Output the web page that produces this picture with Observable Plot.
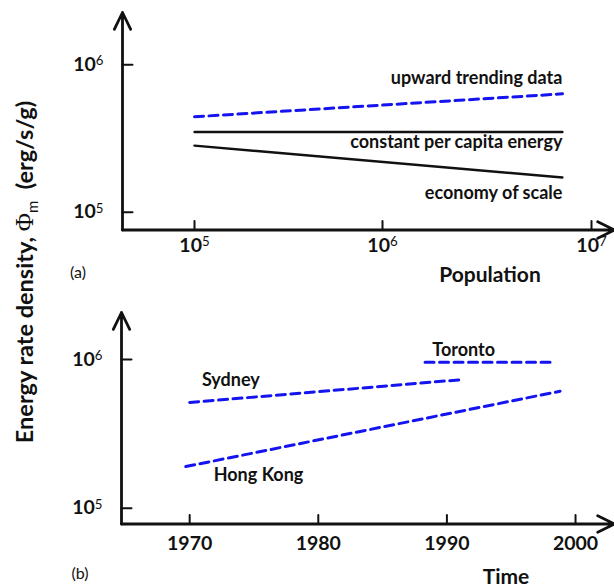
<!DOCTYPE html>
<html><head><meta charset="utf-8">
<script src="https://cdn.jsdelivr.net/npm/d3@7"></script>
<script src="https://cdn.jsdelivr.net/npm/@observablehq/plot@0.6"></script>
<style>
body{margin:0;background:#fff;}
#wrap{position:relative;width:614px;height:586px;overflow:hidden;font-family:Lato,"Open Sans",sans-serif;color:#111;}
#wrap svg{position:absolute;left:0;overflow:visible;}
.lab{position:absolute;white-space:nowrap;transform:translate(-50%,-50%);}
.ttl{font-weight:bold;font-size:21px;}
.pan{font-size:16px;}
#ylab{position:absolute;left:25px;top:272px;transform:translate(-50%,-50%) rotate(-90deg);white-space:nowrap;font-weight:bold;font-size:23.5px;}
#ylab .phi{font-family:"Liberation Serif",serif;font-weight:normal;font-size:25px;}
#ylab sub{font-size:15px;font-weight:normal;vertical-align:-5px;}
</style></head><body>
<div id="wrap">
  <div id="ylab">Energy rate density, <span class="phi">Φ</span><sub>m</sub>&nbsp;&nbsp;(erg/s/g)</div>
  <div class="lab pan" style="left:78px;top:271px">(a)</div>
  <div class="lab pan" style="left:80px;top:572px">(b)</div>
  <div class="lab ttl" style="left:490px;top:273px">Population</div>
  <div class="lab ttl" style="left:506px;top:575px">Time</div>
</div>
<script>
// ---------- Panel (a) data ----------
const popTicks = [1e5, 1e6, 1e7];
const rhoTicksA = [1e5, 1e6];
const popA = [1e5, 7.26e6];
const upwardA = [4.44e5, 6.35e5];
const constantA = [3.5e5, 3.5e5];
const economyA = [2.83e5, 1.72e5];
const labelsA = ["upward trending data", "constant per capita energy", "economy of scale"];
const labelRhoA = [8.07e5, 2.97e5, 1.34e5];

// ---------- Panel (b) data ----------
const yearTicks = [1970, 1980, 1990, 2000];
const rhoTicksB = [1e5, 1e6];
const sydneyYears = [1970, 1991.3];
const sydneyRho = [5.14e5, 7.34e5];
const hongKongYears = [1969.7, 1998.8];
const hongKongRho = [1.905e5, 6.12e5];
const torontoYears = [1988.3, 1998.3];
const torontoRho = [9.59e5, 9.59e5];
const cityLabels = ["Toronto", "Sydney", "Hong Kong"];
const cityLabelYears = [1991.3, 1973.2, 1975.35];
const cityLabelRho = [1.2e6, 7.22e5, 1.66e5];

// axis extents (arrow ends)
const popExtent = [4e4, 1.4e7];
const rhoExtent = [7e4, 2.5e6];
const yearExtent = [1964.7, 2003.03];

const BLUE = "#1414f0";
const tickShape = {draw(ctx, l) { ctx.moveTo(0, 0); ctx.lineTo(0, -l); }};
const expFmt = d => "10^" + Math.round(Math.log10(d));
const zip = (xs, ys) => xs.map((x, i) => ({x, y: ys[i]}));

function axesMarks(xExt, yExt, xTicks, yTicks, xFmt, xPad) {
  return [
    Plot.arrow([{x1: xExt[0], y1: yExt[0], x2: xExt[0], y2: yExt[1]},
                {x1: xExt[0], y1: yExt[0], x2: xExt[1], y2: yExt[0]}],
      {x1: "x1", y1: "y1", x2: "x2", y2: "y2", stroke: "#111", strokeWidth: 2.8, headLength: 10, headAngle: 52}),
    Plot.vector(yTicks, {y: d => d, frameAnchor: "left", rotate: 90, length: 10, anchor: "start", shape: tickShape, stroke: "#111", strokeWidth: 2}),
    Plot.vector(xTicks, {x: d => d, frameAnchor: "bottom", rotate: 0, length: 9, anchor: "start", shape: tickShape, stroke: "#111", strokeWidth: 2}),
    Plot.axisY(yTicks, {anchor: "left", tickSize: 0, tickPadding: 19, tickFormat: expFmt, label: null, fontSize: 19.5, fontWeight: "bold", fill: "#111"}),
    Plot.axisX(xTicks, {anchor: "bottom", tickSize: 0, tickPadding: xPad, tickFormat: xFmt, label: null, fontSize: 19.5, fontWeight: "bold", fill: "#111"})
  ];
}

function supers(svg) {
  svg.querySelectorAll("text").forEach(t => {
    const m = /^10\^(\d+)$/.exec(t.textContent.trim());
    if (!m) return;
    while (t.firstChild) t.removeChild(t.firstChild);
    const a = document.createElementNS("http://www.w3.org/2000/svg", "tspan");
    a.textContent = "10";
    const b = document.createElementNS("http://www.w3.org/2000/svg", "tspan");
    b.textContent = m[1];
    b.setAttribute("dy", "-0.42em");
    b.setAttribute("font-size", "0.68em");
    b.setAttribute("font-weight", "normal");
    t.appendChild(a); t.appendChild(b);
  });
  return svg;
}

const plotA = Plot.plot({
  width: 614, height: 290,
  marginLeft: 122, marginRight: 0, marginTop: 12, marginBottom: 60.5,
  style: {fontFamily: "Lato, 'Open Sans', sans-serif", background: "transparent", overflow: "visible"},
  x: {type: "log", domain: [popExtent[0], 1e5, 1e6, 1e7, popExtent[1]], range: [122, 194, 382, 591, 614]},
  y: {type: "log", domain: [rhoExtent[0], 1e5, 1e6, rhoExtent[1]], range: [229.5, 211.7, 64.3, 12]},
  marks: [
    ...axesMarks(popExtent, rhoExtent, popTicks, rhoTicksA, expFmt, 8),
    Plot.line(zip(popA, upwardA), {x: "x", y: "y", stroke: BLUE, strokeWidth: 3, strokeDasharray: "9,5.5"}),
    Plot.line(zip(popA, constantA), {x: "x", y: "y", stroke: "#111", strokeWidth: 2.4}),
    Plot.line(zip(popA, economyA), {x: "x", y: "y", stroke: "#111", strokeWidth: 2.4}),
    Plot.text(labelsA, {x: () => popA[1], y: (d, i) => labelRhoA[i], text: d => d, textAnchor: "end", fontSize: 18, fontWeight: "bold", fill: "#111"})
  ]
});

const plotB = Plot.plot({
  width: 614, height: 296,
  marginLeft: 121, marginRight: 0, marginTop: 22, marginBottom: 62.5,
  style: {fontFamily: "Lato, 'Open Sans', sans-serif", background: "transparent", overflow: "visible"},
  x: {domain: yearExtent},
  y: {type: "log", domain: [rhoExtent[0], 1e5, 1e6, rhoExtent[1]], range: [233.5, 217.7, 69, 22]},
  marks: [
    ...axesMarks(yearExtent, rhoExtent, yearTicks, rhoTicksB, d => String(d), 12),
    Plot.line(zip(sydneyYears, sydneyRho), {x: "x", y: "y", stroke: BLUE, strokeWidth: 3, strokeDasharray: "9,5.5"}),
    Plot.line(zip(hongKongYears, hongKongRho), {x: "x", y: "y", stroke: BLUE, strokeWidth: 3, strokeDasharray: "9,5.5"}),
    Plot.line(zip(torontoYears, torontoRho), {x: "x", y: "y", stroke: BLUE, strokeWidth: 3, strokeDasharray: "9,5.5"}),
    Plot.text(cityLabels, {x: (d, i) => cityLabelYears[i], y: (d, i) => cityLabelRho[i], text: d => d, fontSize: 18, fontWeight: "bold", fill: "#111"})
  ]
});

const wrap = document.getElementById("wrap");
const sa = supers(plotA); sa.style.top = "0px";
const sb = supers(plotB); sb.style.top = "290px";
wrap.appendChild(sa);
wrap.appendChild(sb);
</script>
</body></html>
